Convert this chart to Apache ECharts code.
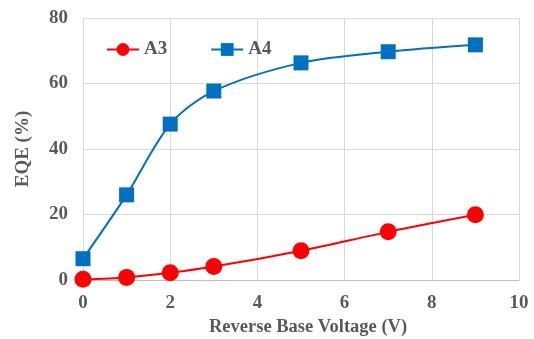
<!DOCTYPE html>
<html>
<head>
<meta charset="utf-8">
<script src="https://cdn.jsdelivr.net/npm/echarts@6/dist/echarts.min.js"></script>
<style>
  html, body { margin: 0; padding: 0; background: #fff; }
  #chart { width: 534px; height: 339px; }
</style>
</head>
<body>
<div id="chart"></div>
<script>
// values
const voltage = [0, 1, 2, 3, 5, 7, 9];
const eqeA3 = [0.2, 0.8, 2.2, 4.1, 8.9, 14.7, 19.9];
const eqeA4 = [6.5, 26, 47.6, 57.7, 66.3, 69.7, 71.8];

const textGray = '#595959';
const fontFam = '"Liberation Serif", "Times New Roman", serif';

function pairs(xs, ys) {
  return xs.map((x, i) => [x, ys[i]]);
}

const chart = echarts.init(document.getElementById('chart'));

let option = {
  animation: false,
  backgroundColor: '#fff',
  textStyle: { fontFamily: fontFam },
  grid: { left: 83, right: 15, top: 18, bottom: 59, containLabel: false, outerBoundsMode: 'none' },
  legend: {
    left: 101,
    top: 35,
    itemWidth: 32,
    itemHeight: 16,
    itemGap: 43,
    textStyle: { fontFamily: fontFam, fontSize: 19, fontWeight: 'bold', color: textGray },
    data: ['A3', 'A4']
  },
  xAxis: {
    type: 'value',
    min: 0,
    max: 10,
    interval: 2,
    name: 'Reverse Base Voltage (V)',
    nameLocation: 'middle',
    nameGap: 37,
    nameTextStyle: { fontFamily: fontFam, fontSize: 18.5, fontWeight: 'bold', color: textGray, padding: [0, 0, 0, 14] },
    axisLine: { lineStyle: { color: '#bfbfbf', width: 1 } },
    axisTick: { show: false },
    axisLabel: { margin: 14, fontFamily: fontFam, fontSize: 19, fontWeight: 'bold', color: textGray },
    splitLine: { show: true, lineStyle: { color: '#d9d9d9', width: 1 } }
  },
  yAxis: {
    type: 'value',
    min: 0,
    max: 80,
    interval: 20,
    name: 'EQE (%)',
    nameLocation: 'middle',
    nameGap: 50,
    nameTextStyle: { fontFamily: fontFam, fontSize: 19, fontWeight: 'bold', color: textGray },
    axisLine: { show: true, lineStyle: { color: '#d9d9d9', width: 1 } },
    axisTick: { show: false },
    axisLabel: { margin: 15, fontFamily: fontFam, fontSize: 19, fontWeight: 'bold', color: textGray },
    splitLine: { show: true, lineStyle: { color: '#d9d9d9', width: 1 } }
  },
  series: [
    {
      name: 'A3',
      type: 'line',
      smooth: 0.3,
      data: pairs(voltage, eqeA3),
      symbol: 'circle',
      symbolSize: 17,
      itemStyle: { color: '#ff0000' },
      lineStyle: { color: '#ff0000', width: 2 },
      z: 3
    },
    {
      name: 'A4',
      type: 'line',
      smooth: 0.3,
      data: pairs(voltage, eqeA4),
      symbol: 'rect',
      symbolSize: 15,
      itemStyle: { color: '#0070c0' },
      lineStyle: { color: '#0070c0', width: 2 },
      z: 2
    }
  ]
};

chart.setOption(option, true);
</script>
</body>
</html>
